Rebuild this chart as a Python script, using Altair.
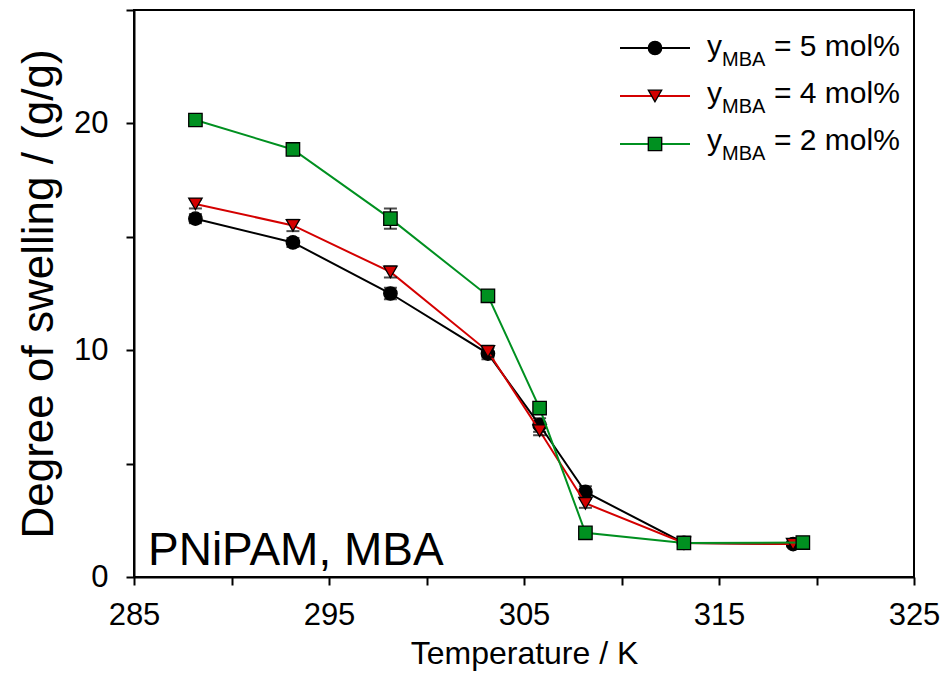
import altair as alt
import pandas as pd

# ---- data ----
temps = [288.15, 293.15, 298.15, 303.15, 305.8, 308.15, 313.2]
t_last_5 = 318.8
t_last_4 = 318.8
t_last_2 = 319.3

y_5 = [15.8, 14.75, 12.5, 9.85, 6.7, 3.75, 1.5, 1.45]
e_5 = [0.2, 0.2, 0.25, 0.25, 0.3, 0.25, 0.1, 0.1]
y_4 = [16.45, 15.5, 13.45, 9.95, 6.45, 3.25, 1.5, 1.45]
e_4 = [0.2, 0.25, 0.25, 0.25, 0.2, 0.2, 0.1, 0.1]
y_2 = [20.15, 18.85, 15.8, 12.4, 7.45, 1.95, 1.5, 1.52]
e_2 = [0.15, 0.15, 0.45, 0.25, 0.25, 0.1, 0.1, 0.1]

series = ["5", "4", "2"]
colors = ["#000000", "#d40000", "#009020"]
shapes = ["circle", "triangle-down", "square"]

x_ticks = [285, 290, 295, 300, 305, 310, 315, 320, 325]
y_ticks = [0, 5, 10, 15, 20, 25]

FONT = "Liberation Sans"

rows = []
for s, ys, es, tl in [("5", y_5, e_5, t_last_5), ("4", y_4, e_4, t_last_4), ("2", y_2, e_2, t_last_2)]:
    for t, v, e in zip(temps + [tl], ys, es):
        rows.append({"series": s, "T": t, "v": v, "lo": v - e, "hi": v + e})
df = pd.DataFrame(rows)

xscale = alt.Scale(domain=[285, 325], nice=False, zero=False)
yscale = alt.Scale(domain=[0, 25], nice=False)

xaxis = alt.Axis(values=x_ticks, title="Temperature / K",
                 labelExpr="datum.value % 10 == 5 ? datum.label : ''",
                 grid=False, tickSize=8, labelPadding=15, titlePadding=8,
                 labelFlush=False)
yaxis = alt.Axis(values=y_ticks, title="Degree of swelling / (g/g)",
                 labelExpr="datum.value % 10 == 0 && datum.value < 25 ? datum.label : ''",
                 grid=False, tickSize=8, labelPadding=18, titlePadding=12,
                 labelFlush=False)

layers = []
for s, c, sh in zip(series, colors, shapes):
    d = df[df.series == s]
    base = alt.Chart(d)
    line = base.mark_line(color=c, strokeWidth=2).encode(
        x=alt.X("T:Q", scale=xscale, axis=xaxis),
        y=alt.Y("v:Q", scale=yscale, axis=yaxis),
        order="T:Q")
    bar = base.mark_rule(color="black", strokeWidth=1.5).encode(
        x="T:Q", y="lo:Q", y2="hi:Q")
    cap_lo = base.mark_tick(color="black", orient="horizontal", size=13, thickness=2).encode(
        x="T:Q", y="lo:Q")
    cap_hi = base.mark_tick(color="black", orient="horizontal", size=13, thickness=2).encode(
        x="T:Q", y="hi:Q")
    pts = base.mark_point(shape=sh, filled=True, fill=c, stroke="black", strokeWidth=1.3,
                          size=180, opacity=1).encode(x="T:Q", y="v:Q")
    layers += [line, bar, cap_lo, cap_hi, pts]

# ---- manual legend (in plot-area pixels) ----
leg_line_y = [38, 86, 134]
leg_text_y = [46, 93, 140]
dummy = pd.DataFrame({"a": [0]})
for s, c, sh, ly, ty in zip(series, colors, shapes, leg_line_y, leg_text_y):
    b = alt.Chart(dummy)
    layers.append(b.mark_rule(color=c, strokeWidth=2).encode(
        x=alt.value(486), x2=alt.value(556), y=alt.value(ly)))
    layers.append(b.mark_point(shape=sh, filled=True, fill=c, stroke="black", strokeWidth=1.3,
                               size=180, opacity=1).encode(x=alt.value(521), y=alt.value(ly)))
    layers.append(b.mark_text(text="y", font=FONT, fontSize=30, align="left",
                              baseline="alphabetic").encode(x=alt.value(573), y=alt.value(ty)))
    layers.append(b.mark_text(text="MBA", font=FONT, fontSize=20, align="left",
                              baseline="alphabetic").encode(x=alt.value(588), y=alt.value(ty + 10)))
    layers.append(b.mark_text(text=f"= {s} mol%", font=FONT, fontSize=30, align="left",
                              baseline="alphabetic").encode(x=alt.value(640), y=alt.value(ty)))

layers.append(alt.Chart(dummy).mark_text(text="PNiPAM, MBA", font=FONT, fontSize=46,
                                         align="left", baseline="alphabetic").encode(
    x=alt.value(14), y=alt.value(555)))

chart = alt.layer(*layers).properties(
    width=780, height=567,
    autosize=alt.AutoSizeParams(type="none"),
    padding={"left": 126, "top": 2, "right": 28, "bottom": 118},
).configure_view(stroke="black", strokeWidth=2).configure_axis(
    labelFont=FONT, titleFont=FONT, labelFontSize=31, titleFontSize=32,
    titleFontWeight="normal", labelColor="black", titleColor="black",
    domainColor="black", domainWidth=2, tickColor="black", tickWidth=2,
).configure_axisY(titleFontSize=44)

chart.save("out.html", embed_options={"renderer": "svg", "actions": False})
